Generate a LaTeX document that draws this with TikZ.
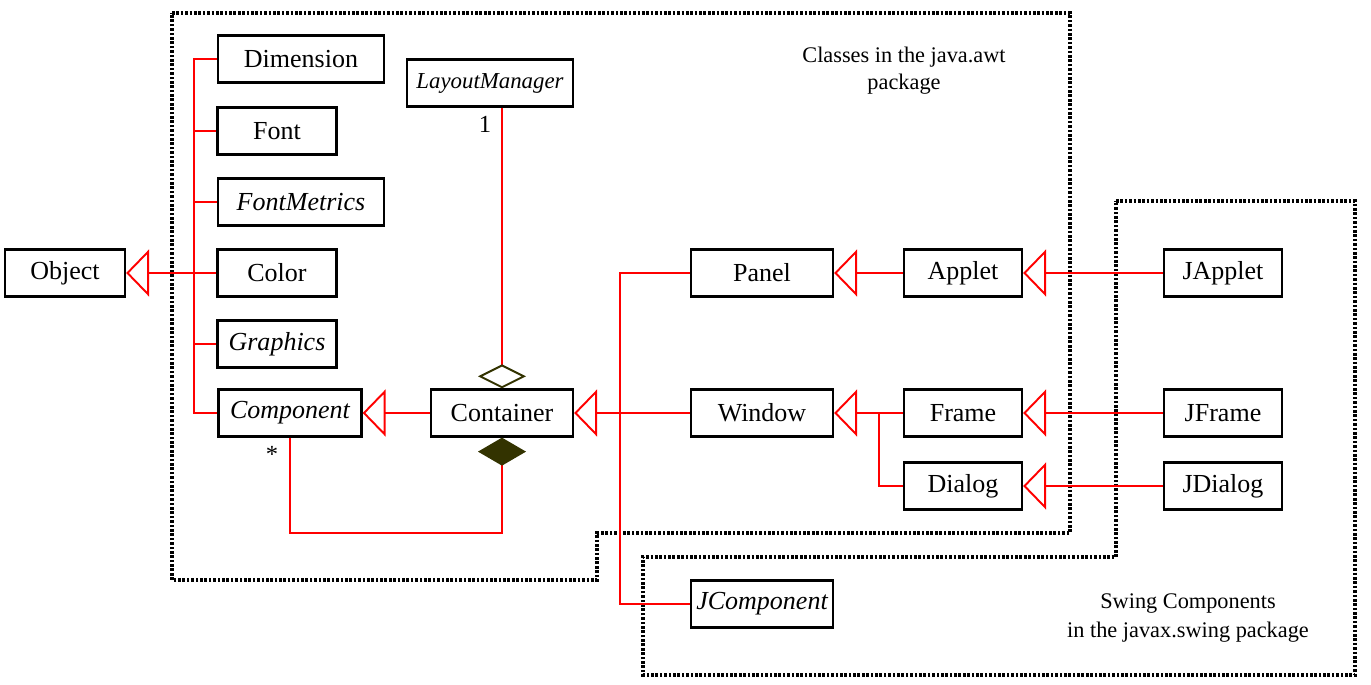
\documentclass[tikz,border=0pt]{standalone}
\usepackage{fontspec}
\setmainfont{Liberation Serif}
\usetikzlibrary{arrows.meta}
\definecolor{darkolive}{HTML}{333300}
\tikzset{
  pkg/.style={line width=1.8pt, dash pattern=on 1.5pt off 1.0pt},
  gen/.style={-{Triangle[open, length=0.46cm, width=0.94cm, line width=1.1pt]}},
  agg/.style={-{Diamond[open, length=0.48cm, width=0.96cm, color=darkolive, line width=1.1pt]}},
  comp/.style={-{Diamond[length=0.56cm, width=0.96cm, color=darkolive, fill=darkolive]}}
}
\begin{document}
\begin{tikzpicture}[x=0.02cm, y=-0.02cm]
            \useasboundingbox (0,0) rectangle (1371,685);
            % package borders
            \draw[pkg] (172,13) -- (1070,13) -- (1070,533) -- (597,533) -- (597,580) -- (172,580) -- cycle;
            \draw[pkg] (1116,201) -- (1355,201) -- (1355,675) -- (643,675) -- (643,557) -- (1116,557) -- cycle;
            \node[align=center, font=\fontsize{12.7}{15.5}\selectfont] (awtnote) at (904,71) {Classes in the java.awt\\package};
            \node[align=center, font=\fontsize{12.7}{17}\selectfont] (swingnote) at (1188,618) {Swing Components\\in the javax.swing package};
            \begin{scope}[every node/.style={draw, line width=1.3pt, minimum height=0.94cm, inner sep=0pt, font=\fontsize{14.8}{17}\selectfont}]
                \node[minimum width=2.4cm] (object) at (65,273) {Object};
                \node[minimum width=3.32cm] (dimension) at (301,59) {Dimension};
                \node[minimum width=2.38cm] (font) at (277,131) {Font};
                \node[minimum width=3.32cm] (fontmetrics) at (301,202) {\itshape FontMetrics};
                \node[minimum width=2.38cm] (color) at (277,273) {Color};
                \node[minimum width=2.38cm] (graphics) at (277,344) {\itshape Graphics};
                \node[minimum width=2.86cm] (component) at (290,413) {\itshape Component};
                \node[minimum width=3.32cm, font=\fontsize{13}{15}\selectfont] (layout) at (490,83) {\itshape LayoutManager};
                \node[minimum width=2.84cm] (container) at (502,413) {Container};
                \node[minimum width=2.84cm] (panel) at (762,273) {Panel};
                \node[minimum width=2.84cm] (window) at (762,413) {Window};
                \node[minimum width=2.84cm] (jcomponent) at (762,604) {\itshape JComponent};
                \node[minimum width=2.36cm] (applet) at (963,273) {Applet};
                \node[minimum width=2.36cm] (frame) at (963,413) {Frame};
                \node[minimum width=2.36cm] (dialog) at (963,486) {Dialog};
                \node[minimum width=2.36cm] (japplet) at (1223,273) {JApplet};
                \node[minimum width=2.36cm] (jframe) at (1223,413) {JFrame};
                \node[minimum width=2.36cm] (jdialog) at (1223,486) {JDialog};
            \end{scope}
            \begin{scope}[every edge/.style={draw, red, line width=1.1pt}]
                \path
                    (color) edge [gen] (object)
                    (container) edge [gen] (component)
                    (window) edge [gen] (container)
                    (applet) edge [gen] (panel)
                    (frame) edge [gen] (window)
                    (japplet) edge [gen] (applet)
                    (jframe) edge [gen] (frame)
                    (jdialog) edge [gen] (dialog);
            \end{scope}
            \begin{scope}[red, line width=1.1pt]
                \draw (dimension.west) -- ++(-23,0) |- (component.west);
                \draw (font.west) -- ++(-23,0);
                \draw (fontmetrics.west) -- ++(-23,0);
                \draw (graphics.west) -- ++(-23,0);
                \draw (panel.west) -- ++(-70,0) |- (jcomponent.west);
                \draw (dialog.west) -- ++(-24,0) |- (frame.west);
                \draw[agg] (layout.south -| container.north) -- (container.north);
                \draw[comp] (component.south) -- ++(0,95) -| (container.south);
            \end{scope}
            \node[font=\fontsize{14}{16}\selectfont] (one) at (485,124) {1};
            \node[font=\fontsize{14}{16}\selectfont] (many) at (272,454) {*};
        \end{tikzpicture}
\end{document}
